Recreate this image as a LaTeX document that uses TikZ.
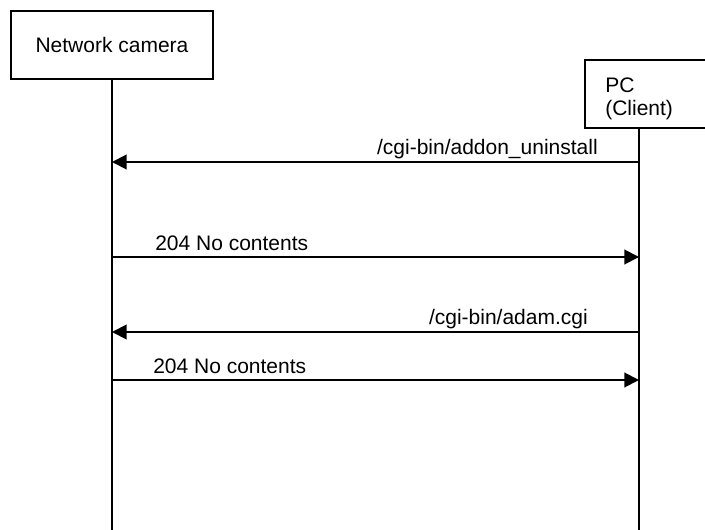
\documentclass[tikz,border=0pt]{standalone}
\usepackage{fontspec}
\setmainfont{Liberation Sans}
\usetikzlibrary{positioning,arrows.meta}

\begin{document}
\begin{tikzpicture}[x=0.75pt,y=-0.75pt,
			font=\fontsize{15.75}{17.25}\selectfont,
			box/.style={draw,line width=1.2pt,minimum width=151.5pt,minimum height=51pt,inner sep=0pt},
			life/.style={line width=1pt},
			msg/.style={line width=1.5pt,-{Triangle[length=11pt,width=11pt]}},
			lbl/.style={inner sep=0pt}]
			\path[use as bounding box,clip] (0,0) rectangle (705,530);
% 			the two parties
			\node[box] (cam) at (112,45) {Network camera};
			\node[box,anchor=north west] (pc) at (584,59) {};
			\node[lbl,anchor=west,align=left] (pctext) at ([xshift=15.75pt,yshift=-3.5pt]pc.west) {PC\\(Client)};
			\coordinate (cambot) at (112,530);
			\coordinate (pcbot) at (639,530);
			\draw[life] (cam.south) -- (cambot);
			\draw[life] (pc.south -| pcbot) -- (pcbot);
% 			points on the life lines
			\coordinate (c1) at (112,162);
			\coordinate (p1) at (639,162);
			\coordinate (c2) at (112,257);
			\coordinate (p2) at (639,257);
			\coordinate (c3) at (112,332);
			\coordinate (p3) at (639,332);
			\coordinate (c4) at (112,380);
			\coordinate (p4) at (639,380);
% 			messages
			\draw[msg] (p1) -- (c1);
			\draw[msg] (c2) -- (p2);
			\draw[msg] (p3) -- (c3);
			\draw[msg] (c4) -- (p4);
			\node[lbl,anchor=base east] (m1) at (598,155) {/cgi-bin/addon\_uninstall};
			\node[lbl,anchor=base west] (m2) at (155,251) {204 No contents};
			\node[lbl,anchor=base east] (m3) at (588,325) {/cgi-bin/adam.cgi};
			\node[lbl,anchor=base west] (m4) at (153,373) {204 No contents};
\end{tikzpicture}
\end{document}
